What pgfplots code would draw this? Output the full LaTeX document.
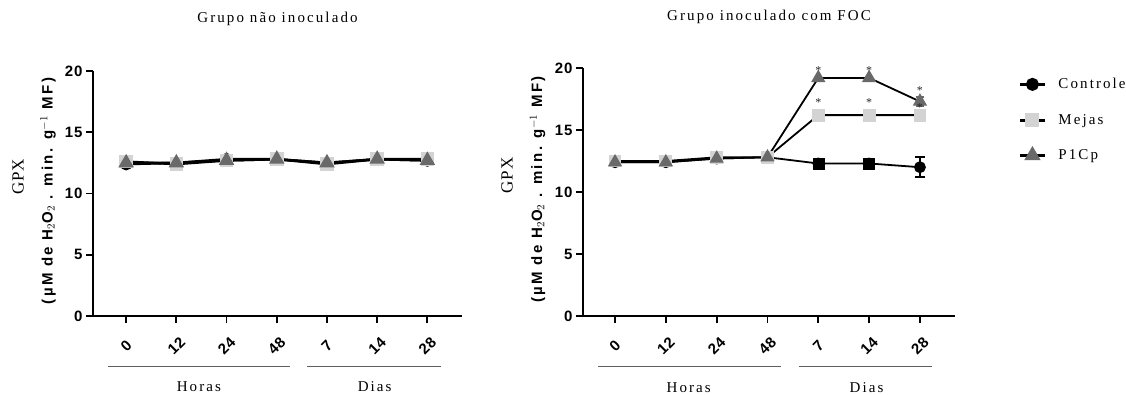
\documentclass[border=0pt]{standalone}
\usepackage{fontspec}
\setmainfont{Liberation Serif}
\newfontfamily\spserif[LetterSpace=14]{Liberation Serif}
\newfontfamily\gpxserif[LetterSpace=4]{Liberation Serif}
\newfontfamily\spsans[LetterSpace=16]{Liberation Sans}
\newfontfamily\ticksans[LetterSpace=6]{Liberation Sans}
\usepackage{pgfplots}
\pgfplotsset{compat=1.18}

\definecolor{mejas}{RGB}{211,211,211}
\definecolor{plcp}{RGB}{105,105,105}
\definecolor{grp}{RGB}{95,95,95}

\newcommand{\serifsz}{\spserif\fontsize{15}{17}\selectfont}
\newcommand{\gpxsz}{\gpxserif\fontsize{17}{19}\selectfont}
\newcommand{\ticksz}{\ticksans\bfseries\fontsize{15}{15}\selectfont}

\pgfplotsset{
  panel/.style={
    scale only axis,
    ymin=0, ymax=20,
    axis x line*=bottom, axis y line*=left,
    axis line style={line width=2pt},
    xtick={0,...,6}, xticklabels={0,12,24,48,7,14,28},
    ytick={0,5,10,15,20},
    tick align=outside, major tick length=7pt,
    tick style={line width=1.8pt, black},
    /pgf/number format/assume math mode=true,
    yticklabel style={font=\ticksz},
    xticklabel style={font=\ticksz, yshift=-23pt, rotate=45, anchor=center},
    clip=false,
    title style={font=\serifsz},
    ylabel={(µM de H$_2$O$_2$ . min. g$^{-1}$ MF)},
    ylabel style={font=\spsans\bfseries\fontsize{15}{15}\selectfont, at={(axis description cs:-0.122,0.51)}, anchor=center},
  },
  ctrl/.style={black, line width=2.5pt, mark=*, mark size=5pt, mark options={fill=black, draw=black}},
  mej/.style={black, line width=2.5pt, mark=square*, mark size=5.5pt, mark options={fill=mejas, draw=mejas}},
  pl/.style={black, line width=2.5pt, mark=triangle*, mark size=6.5pt, mark options={fill=plcp, draw=plcp}},
  legend image code/.code={\draw[mark repeat=2,mark phase=2,#1, line width=3pt] plot coordinates {(0pt,0pt) (12.5pt,0pt) (25pt,0pt)};},
}

\begin{document}
\begin{tikzpicture}
\path[use as bounding box] (0,0) rectangle (1126pt,394pt);

% ---------- left panel ----------
\begin{axis}[panel, at={(93pt,78pt)}, anchor=south west,
  width=369pt, height=245pt, xmin=-0.66, xmax=6.69,
  title={Grupo não inoculado}, title style={at={(0.5,1.19)}, anchor=center}]
\addplot[ctrl] coordinates {(0,12.4) (1,12.5) (2,12.8) (3,12.8) (4,12.5) (5,12.8) (6,12.7)};
\addplot[mej] coordinates {(0,12.6) (1,12.4) (2,12.7) (3,12.8) (4,12.4) (5,12.8) (6,12.8)};
\addplot[pl] coordinates {(0,12.5) (1,12.5) (2,12.7) (3,12.8) (4,12.5) (5,12.8) (6,12.7)};
\node[rotate=90, font=\gpxsz] at (rel axis cs:-0.203,0.567) {GPX};
\draw[grp, line width=1pt] (axis cs:-0.36,-4.1) -- (axis cs:3.27,-4.1);
\draw[grp, line width=1pt] (axis cs:3.6,-4.1) -- (axis cs:6.27,-4.1);
\node[font=\serifsz] at (axis cs:1.45,-5.8) {Horas};
\node[font=\serifsz] at (axis cs:4.95,-5.8) {Dias};
\end{axis}

% ---------- right panel ----------
\begin{axis}[panel, at={(583pt,78pt)}, anchor=south west,
  width=372pt, height=248pt, xmin=-0.63, xmax=6.69,
  title={Grupo inoculado com FOC}, title style={at={(0.5,1.18)}, anchor=center},
  legend style={at={(1.17,0.975)}, anchor=north west, draw=none, fill=none,
    font=\serifsz, row sep=20pt, legend cell align=left, inner xsep=0pt,
    /tikz/every even column/.append style={column sep=0pt},
    /tikz/every odd column/.append style={column sep=10pt}},
  ]
\addplot[ctrl, line width=1.8pt, error bars/.cd, y dir=both, y explicit,
  error bar style={line width=2pt, black}, error mark options={rotate=90, mark size=5pt, line width=2pt, black}]
  coordinates {(0,12.4) +- (0,0.1) (1,12.4) +- (0,0.1) (2,12.7) +- (0,0.1) (3,12.8) +- (0,0.1) (4,12.3) +- (0,0.1) (5,12.3) +- (0,0.1) (6,12.0) +- (0,0.8)};
\addlegendentry{Controle}
\addplot[mej, line width=1.8pt] coordinates {(0,12.5) (1,12.5) (2,12.8) (3,12.8) (4,16.2) (5,16.2) (6,16.2)};
\addlegendentry{Mejas}
\addplot[pl, line width=1.8pt, error bars/.cd, y dir=both, y explicit,
  error bar style={line width=2pt, plcp}, error mark options={rotate=90, mark size=4pt, line width=2pt, plcp}]
  coordinates {(0,12.4) (1,12.4) (2,12.7) (3,12.8) (4,19.2) (5,19.2) (6,17.3) +- (0,0.4)};
\addlegendentry{P1Cp}
% control markers drawn as squares at 7 and 14 d
\addplot[only marks, mark=square*, mark size=5.5pt, mark options={fill=black, draw=black}, forget plot]
  coordinates {(4,12.3) (5,12.3)};
% significance asterisks
\addplot[draw=none, mark=none, forget plot, nodes near coords={*}, nodes near coords align={center},
  every node near coord/.append style={font=\fontsize{12}{12}\selectfont, text=black!85, inner sep=0pt}]
  coordinates {(4,19.8) (5,19.8) (6,18.2) (4,17.2) (5,17.2) (6,16.8)};
\node[rotate=90, font=\gpxsz] at (rel axis cs:-0.204,0.567) {GPX};
\draw[grp, line width=1pt] (axis cs:-0.33,-4.1) -- (axis cs:3.27,-4.1);
\draw[grp, line width=1pt] (axis cs:3.62,-4.1) -- (axis cs:6.24,-4.1);
\node[font=\serifsz] at (axis cs:1.45,-5.8) {Horas};
\node[font=\serifsz] at (axis cs:4.95,-5.8) {Dias};
\end{axis}
\end{tikzpicture}
\end{document}
